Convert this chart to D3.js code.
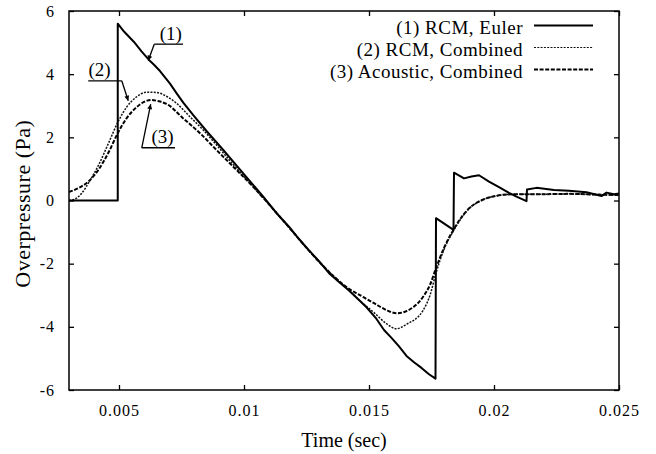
<!DOCTYPE html>
<html>
<head>
<meta charset="utf-8">
<script src="https://cdn.jsdelivr.net/npm/d3@7"></script>
<style>
    body { margin: 0; background: #fff; }
    text { font-family: "Liberation Serif", "Times New Roman", serif; fill: #000; }
</style>
</head>
<body>
<div id="chart"></div>
<script>
// time (sec) / overpressure (Pa)
const eulerT = [0.003, 0.00495, 0.00495, 0.0052, 0.0056, 0.0059, 0.0062, 0.0064, 0.00664, 0.00704, 0.0073, 0.00757,
    0.00797, 0.0085, 0.00917, 0.00997, 0.01077, 0.0113, 0.0118, 0.0122, 0.0126, 0.013, 0.0134, 0.0138, 0.0142,
    0.0146, 0.0149, 0.0153, 0.0156, 0.0159, 0.0162, 0.0165, 0.0168, 0.0171, 0.0174, 0.01766, 0.01768, 0.01838,
    0.0184, 0.0188, 0.0191, 0.0194, 0.0198, 0.0202, 0.0206, 0.0209, 0.0213, 0.02132, 0.0217, 0.0224, 0.023,
    0.0237, 0.0243, 0.0245, 0.0248, 0.025];
const eulerP = [0, 0, 5.6, 5.35, 5.02, 4.72, 4.45, 4.3, 4.1, 3.7, 3.4, 3.1,
    2.7, 2.2, 1.6, 0.86, 0.12, -0.4, -0.83, -1.22, -1.58, -1.92, -2.3, -2.58, -2.85,
    -3.15, -3.38, -3.75, -4.1, -4.35, -4.62, -4.92, -5.12, -5.3, -5.5, -5.64, -0.56, -0.93,
    0.88, 0.7, 0.76, 0.8, 0.6, 0.42, 0.24, 0.12, -0.02, 0.35, 0.4, 0.33, 0.31,
    0.26, 0.14, 0.25, 0.2, 0.22];

const rcmT = [0.003, 0.0032, 0.0035, 0.0038, 0.0042, 0.0046, 0.00493, 0.0053, 0.0057, 0.0061, 0.0065, 0.0069,
    0.0073, 0.00784, 0.00837, 0.0089, 0.0095, 0.01024, 0.011, 0.0118, 0.0125, 0.0132, 0.01384, 0.0142, 0.0146,
    0.0152, 0.0157, 0.0161, 0.0165, 0.01717, 0.01744, 0.01768, 0.018, 0.0184, 0.0187, 0.019, 0.0194, 0.0197,
    0.0201, 0.0205, 0.021, 0.022, 0.023, 0.024, 0.025];
const rcmP = [0, 0.03, 0.22, 0.58, 1.15, 1.85, 2.44, 2.95, 3.28, 3.43, 3.42, 3.3,
    3.08, 2.65, 2.23, 1.76, 1.2, 0.55, -0.12, -0.85, -1.5, -2.1, -2.58, -2.85, -3.15,
    -3.55, -3.9, -4.06, -3.92, -3.47, -3.0, -2.3, -1.55, -0.93, -0.55, -0.26, -0.04, 0.07,
    0.15, 0.19, 0.2, 0.2, 0.21, 0.19, 0.17];

const acoT = [0.003, 0.0034, 0.0038, 0.0042, 0.0046, 0.00493, 0.0053, 0.0057, 0.006, 0.0063, 0.0066, 0.0069,
    0.00757, 0.00824, 0.0089, 0.00957, 0.01024, 0.011, 0.0118, 0.0125, 0.0132, 0.01384, 0.0142, 0.0146,
    0.0152, 0.0157, 0.0161, 0.0165, 0.01717, 0.01744, 0.01768, 0.018, 0.0184, 0.0187, 0.019, 0.0194, 0.0197,
    0.0201, 0.0205, 0.021, 0.022, 0.023, 0.024, 0.025];
const acoP = [0.27, 0.4, 0.62, 1.0, 1.55, 2.1, 2.6, 2.95, 3.12, 3.18, 3.14, 3.06,
    2.6, 2.13, 1.6, 1.07, 0.54, -0.12, -0.85, -1.5, -2.1, -2.58, -2.8, -2.98,
    -3.25, -3.47, -3.57, -3.5, -3.04, -2.67, -2.14, -1.5, -0.9, -0.53, -0.25, -0.03, 0.07,
    0.15, 0.19, 0.2, 0.2, 0.21, 0.19, 0.17];

const seriesNames = ["(1) RCM, Euler", "(2) RCM, Combined", "(3) Acoustic, Combined"];

const xTicks = [0.005, 0.01, 0.015, 0.02, 0.025];
const xTickLabels = ["0.005", "0.01", "0.015", "0.02", "0.025"];
const yTicks = [-6, -4, -2, 0, 2, 4, 6];
const yTickLabels = ["-6", "-4", "-2", "0", "2", "4", "6"];

// callout labels: arrow tip, elbow, end of underline, text centre
const calloutLabels = ["(1)", "(2)", "(3)"];
const calloutTip = [[0.00617, 4.43], [0.00537, 3.16], [0.006268, 3.05]];
const calloutElbow = [[0.00641, 4.95], [0.00511, 3.79], [0.00591, 1.67]];
const calloutEnd = [0.00756, 0.00377, 0.00724];
const calloutText = [0.00707, 0.00422, 0.00674];

const width = 656, height = 454;
const margin = {left: 69, right: 37, top: 11, bottom: 64};

const svg = d3.select("#chart").append("svg")
    .attr("width", width)
    .attr("height", height);

const x = d3.scaleLinear().domain([0.003, 0.025]).range([margin.left, width - margin.right]);
const y = d3.scaleLinear().domain([-6, 6]).range([height - margin.bottom, margin.top]);

// axes, ticks drawn inward on all four sides
const xAxis = svg.append("g")
    .attr("transform", "translate(0," + y(-6) + ")")
    .call(d3.axisBottom(x).tickValues(xTicks).tickSize(-5).tickPadding(14.5)
        .tickFormat((d, i) => xTickLabels[i]));
const yAxis = svg.append("g")
    .attr("transform", "translate(" + x(0.003) + ",0)")
    .call(d3.axisLeft(y).tickValues(yTicks).tickSize(-5).tickPadding(14)
        .tickFormat((d, i) => yTickLabels[i]));
svg.append("g")
    .attr("transform", "translate(0," + y(6) + ")")
    .call(d3.axisTop(x).tickValues(xTicks).tickSize(-5).tickFormat(""));
svg.append("g")
    .attr("transform", "translate(" + x(0.025) + ",0)")
    .call(d3.axisRight(y).tickValues(yTicks).tickSize(-5).tickFormat(""));

svg.selectAll(".domain").remove();
svg.selectAll(".tick line").attr("stroke", "#000").attr("stroke-width", 1.3);
xAxis.selectAll("text").style("font-size", "16px").style("letter-spacing", "1px");
yAxis.selectAll("text").style("font-size", "16px").style("letter-spacing", "1px");

svg.append("rect")
    .attr("x", x(0.003))
    .attr("y", y(6))
    .attr("width", x(0.025) - x(0.003))
    .attr("height", y(-6) - y(6))
    .attr("fill", "none")
    .attr("stroke", "#000")
    .attr("stroke-width", 1.5);

svg.append("text")
    .attr("x", (x(0.003) + x(0.025)) / 2)
    .attr("y", 447)
    .attr("text-anchor", "middle")
    .style("font-size", "20px")
    .text("Time (sec)");

svg.append("text")
    .attr("transform", "translate(30," + y(-0.1) + ") rotate(-90)")
    .attr("text-anchor", "middle")
    .style("font-size", "22px")
    .style("letter-spacing", "0.5px")
    .text("Overpressure (Pa)");

// curves
const styles = [
    {width: 2, dash: null, color: "#000"},
    {width: 1.5, dash: "2,1.3", color: "#111"},
    {width: 2, dash: "4,1.6", color: "#000"}
];

const series = [
    {t: eulerT, p: eulerP, curve: d3.curveLinear},
    {t: rcmT, p: rcmP, curve: d3.curveMonotoneX},
    {t: acoT, p: acoP, curve: d3.curveMonotoneX}
];

const plot = svg.append("g");
[2, 1, 0].forEach((k) => {
    let s = series[k];
    let line = d3.line()
        .x((d, i) => x(s.t[i]))
        .y((d) => y(d))
        .curve(s.curve);
    plot.append("path")
        .attr("d", line(s.p))
        .attr("fill", "none")
        .attr("stroke", styles[k].color)
        .attr("stroke-width", styles[k].width)
        .attr("stroke-dasharray", styles[k].dash)
        .attr("stroke-linejoin", "round");
});

// legend
const legend = svg.append("g");
seriesNames.forEach((name, i) => {
    let ty = 33.5 + i * 22;
    legend.append("text")
        .attr("x", 523)
        .attr("y", ty)
        .attr("text-anchor", "end")
        .style("font-size", "19px")
        .style("letter-spacing", "0.5px")
        .text(name);
    legend.append("line")
        .attr("x1", 534)
        .attr("x2", 593)
        .attr("y1", ty - 8)
        .attr("y2", ty - 8)
        .attr("stroke", styles[i].color)
        .attr("stroke-width", i === 1 ? 1 : styles[i].width)
        .attr("stroke-dasharray", styles[i].dash);
});

// callouts with arrows
svg.append("defs").append("marker")
    .attr("id", "arrow")
    .attr("viewBox", "0 0 10 10")
    .attr("refX", 10)
    .attr("refY", 5)
    .attr("markerWidth", 7)
    .attr("markerHeight", 5)
    .attr("markerUnits", "userSpaceOnUse")
    .attr("orient", "auto")
    .append("path")
    .attr("d", "M0,0L10,5L0,10z")
    .attr("fill", "#000");

calloutLabels.forEach((lab, i) => {
    let ex = x(calloutElbow[i][0]), ey = y(calloutElbow[i][1]);
    svg.append("line")
        .attr("x1", x(calloutEnd[i]))
        .attr("y1", ey)
        .attr("x2", ex)
        .attr("y2", ey)
        .attr("stroke", "#000")
        .attr("stroke-width", 1.3);
    svg.append("line")
        .attr("x1", ex)
        .attr("y1", ey)
        .attr("x2", x(calloutTip[i][0]))
        .attr("y2", y(calloutTip[i][1]))
        .attr("stroke", "#000")
        .attr("stroke-width", 1.3)
        .attr("marker-end", "url(#arrow)");
    svg.append("text")
        .attr("x", x(calloutText[i]))
        .attr("y", ey - 4.5)
        .attr("text-anchor", "middle")
        .style("font-size", "19px")
        .text(lab);
});
</script>
</body>
</html>
